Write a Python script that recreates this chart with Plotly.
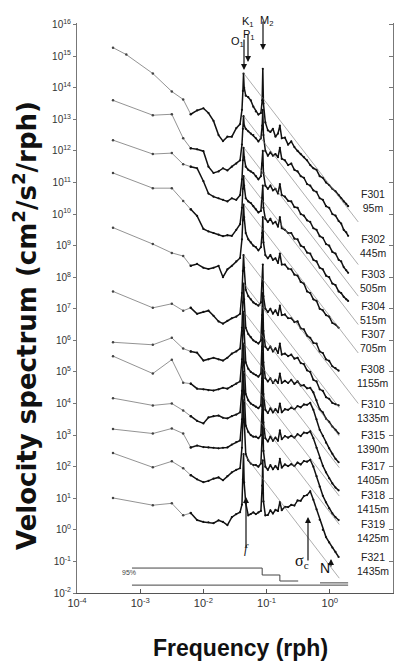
import plotly.graph_objects as go

# ---------------- data (log10 values) ----------------
NAMES = ["F301", "F302", "F303", "F304", "F307", "F308",
         "F310", "F315", "F317", "F318", "F319", "F321"]
DEPTHS = ["95m", "445m", "505m", "515m", "705m", "1155m",
          "1335m", "1390m", "1405m", "1415m", "1425m", "1435m"]

# coarse low-frequency estimates (log10 frequency, rph)
LOW_F = [
    [-3.43, -3.22, -2.80, -2.50, -2.32],
    [-3.43, -2.80, -2.50, -2.32],
    [-3.43, -2.80, -2.50, -2.32],
    [-3.43, -2.80, -2.50, -2.32],
    [-3.43, -2.80, -2.50, -2.32],
    [-3.43, -2.80, -2.50, -2.32],
    [-3.43, -2.80, -2.50, -2.32],
    [-3.43, -2.80, -2.50, -2.32],
    [-3.43, -2.80, -2.50, -2.32],
    [-3.43, -2.80, -2.50, -2.32],
    [-3.43, -2.80, -2.50, -2.32],
    [-3.43, -2.80, -2.50, -2.32],
]
LOW_S = [
    [15.27, 15.05, 14.45, 13.88, 13.63],
    [13.60, 13.13, 13.16, 12.40],
    [12.34, 11.90, 11.93, 11.58],
    [11.30, 10.82, 10.82, 10.41],
    [9.57, 9.05, 8.77, 8.67],
    [7.55, 7.03, 7.16, 6.94],
    [5.94, 5.86, 6.08, 5.74],
    [5.50, 4.95, 5.39, 4.66],
    [4.17, 3.94, 4.00, 3.78],
    [3.19, 3.05, 3.21, 3.05],
    [2.43, 1.98, 2.17, 1.95],
    [1.01, 0.78, 0.84, 0.46],
]

# band-averaged part: shared log10 frequency grid
DENSE_F = [-2.20, -2.10, -2.00, -1.92, -1.84, -1.76, -1.69, -1.62, -1.55, -1.48,
           -1.42, -1.39, -1.375, -1.365, -1.355, -1.33, -1.29, -1.25, -1.21, -1.17,
           -1.13, -1.09, -1.07, -1.06, -1.05, -1.02, -0.98, -0.94, -0.90, -0.86,
           -0.82, -0.79, -0.76, -0.71, -0.66, -0.61, -0.56, -0.51, -0.46, -0.41,
           -0.36, -0.31, -0.26, -0.21, -0.16, -0.11, -0.06, -0.01, 0.04, 0.09,
           0.14, 0.18, 0.22, 0.26, 0.29]

DENSE_S = [
    # F301
    [13.16, 13.28, 13.35, 13.2, 12.95, 12.5, 12.31, 12.45, 12.45, 12.72,
     12.85, 13.3, 13.9, 14.45, 14.0, 13.75, 13.7, 13.6, 13.4, 13.25,
     13.15, 13.2, 13.6, 14.6, 13.5,
     12.9, 12.65, 12.6, 12.7, 12.45, 12.55, 12.8, 12.4, 12.42, 12.2,
     12.3, 12.12, 12.0, 11.9, 11.8, 11.7, 11.55, 11.45, 11.4, 11.2,
     11.15, 11.0, 10.92, 10.8, 10.72, 10.6, 10.5, 10.4, 10.32, 10.25],
    # F302
    [12.08, 12.05, 11.99, 11.5, 11.3, 11.35, 11.45, 11.38, 11.5, 11.6,
     11.7, 12.2, 12.7, 13.1, 12.8, 12.7, 12.62, 12.55, 12.5, 12.4,
     12.3, 12.4, 12.8, 13.3, 12.5,
     12.0, 11.85, 11.95, 11.85, 11.9, 11.8, 12.1, 11.75, 11.7, 11.55,
     11.6, 11.4, 11.35, 11.2, 11.15, 10.95, 10.9, 10.75, 10.7, 10.5,
     10.45, 10.25, 10.2, 10.0, 9.95, 9.78, 9.7, 9.5, 9.42, 9.31],
    # F303
    [11.5, 11.45, 11.04, 10.65, 10.55, 10.5, 10.45, 10.4, 10.5, 10.45,
     10.6, 11.1, 11.7, 12.1, 11.8, 11.5, 11.4, 11.35, 11.3, 11.2,
     11.1, 11.2, 11.6, 12.0, 11.3,
     10.9, 10.8, 10.9, 10.75, 10.8, 10.65, 10.95, 10.6, 10.55, 10.42,
     10.4, 10.22, 10.2, 10.0, 9.95, 9.8, 9.75, 9.55, 9.5, 9.3,
     9.25, 9.05, 9.0, 8.8, 8.75, 8.55, 8.5, 8.32, 8.22, 8.14],
    # F304
    [10.15, 9.94, 9.53, 9.45, 9.40, 9.35, 9.3, 9.33, 9.31, 9.5,
     9.68, 10.2, 10.8, 11.2, 10.9, 10.5, 10.4, 10.35, 10.25, 10.15,
     10.05, 10.1, 10.5, 10.9, 10.2,
     9.85, 9.75, 9.85, 9.7, 9.75, 9.6, 9.9, 9.55, 9.5, 9.4,
     9.4, 9.22, 9.2, 9.0, 8.95, 8.78, 8.75, 8.55, 8.5, 8.3,
     8.25, 8.05, 8.0, 7.8, 7.75, 7.55, 7.5, 7.38, 7.3, 7.25],
    # F307
    [8.36, 8.42, 8.3, 8.26, 8.3, 8.36, 8.0, 8.25, 8.36, 8.5,
     8.61, 9.2, 9.8, 10.3, 9.9, 9.4, 9.2, 9.1, 9.0, 8.95,
     8.85, 8.95, 9.4, 9.9, 9.1,
     8.7, 8.6, 8.7, 8.55, 8.6, 8.45, 8.75, 8.4, 8.4, 8.27,
     8.25, 8.08, 8.05, 7.85, 7.8, 7.55, 7.5, 7.3, 7.25, 7.0,
     6.95, 6.8, 6.75, 6.55, 6.5, 6.4],
    # F308
    [7.03, 6.84, 6.9, 6.94, 6.78, 6.6, 6.53, 6.62, 6.7, 6.75,
     6.84, 7.5, 8.2, 8.7, 8.3, 7.6, 7.4, 7.3, 7.2, 7.15,
     7.1, 7.2, 7.8, 8.4, 7.4,
     7.0, 6.9, 7.0, 6.85, 6.95, 6.8, 7.1, 6.8, 6.82, 6.7,
     6.7, 6.58, 6.6, 6.38, 6.35, 6.15, 6.08, 5.92, 5.9, 5.65,
     5.6, 5.4, 5.35, 5.18, 5.12, 5.04],
    # F310
    [5.65, 5.61, 5.36, 5.4, 5.45, 5.4, 5.36, 5.45, 5.58, 5.65,
     5.74, 6.4, 7.2, 7.8, 7.3, 6.4, 6.2, 6.1, 6.0, 5.95,
     5.9, 6.0, 6.8, 7.5, 6.3,
     5.8, 5.7, 5.8, 5.65, 5.75, 5.6, 5.9, 5.55, 5.58, 5.5,
     5.55, 5.42, 5.45, 5.28, 5.25, 5.05, 5.0, 4.75, 4.7, 4.45,
     4.4, 4.2, 4.15, 4.02, 3.98, 3.94],
    # F315
    [4.63, 4.47, 4.45, 4.42, 4.41, 4.45, 4.5, 4.47, 4.55, 4.63,
     4.7, 5.4, 6.3, 6.9, 6.3, 5.3, 5.1, 5.0, 4.95, 4.9,
     4.85, 4.95, 5.8, 6.6, 5.3,
     4.8, 4.7, 4.8, 4.65, 4.75, 4.65, 4.95, 4.65, 4.72, 4.65,
     4.75, 4.62, 4.7, 4.57, 4.58, 4.48, 4.5, 4.35, 4.1, 3.82,
     3.72, 3.52, 3.42, 3.27, 3.17, 3.05],
    # F317
    [3.6, 3.45, 3.37, 3.56, 3.6, 3.62, 3.55, 3.53, 3.6, 3.65,
     3.72, 4.4, 5.3, 5.9, 5.3, 4.3, 4.1, 4.0, 3.95, 3.9,
     3.85, 3.95, 4.8, 5.6, 4.3,
     3.8, 3.7, 3.85, 3.72, 3.82, 3.72, 4.0, 3.72, 3.82, 3.8,
     3.87, 3.82, 3.92, 3.88, 3.97, 3.96, 4.02, 3.8, 3.5, 3.17,
     2.98, 2.76, 2.58, 2.41, 2.25, 2.14],
    # F318
    [2.61, 2.67, 2.62, 2.61, 2.6, 2.58, 2.6, 2.61, 2.7, 2.78,
     2.83, 3.5, 4.4, 5.0, 4.4, 3.3, 3.1, 3.0, 2.95, 2.95,
     2.9, 3.0, 3.9, 4.7, 3.4,
     2.9, 2.8, 2.95, 2.82, 2.92, 2.82, 3.15, 2.87, 2.97, 2.92,
     2.98, 2.92, 3.03, 2.97, 3.08, 3.06, 3.12, 2.9, 2.6, 2.27,
     2.03, 1.82, 1.63, 1.47, 1.34, 1.25],
    # F319
    [1.73, 1.6, 1.51, 1.55, 1.62, 1.66, 1.57, 1.7, 1.82, 1.9,
     1.95, 2.6, 3.5, 4.1, 3.5, 2.4, 2.2, 2.1, 2.05, 2.05,
     2.0, 2.1, 3.0, 3.8, 2.5,
     2.0, 1.9, 2.05, 1.92, 2.02, 1.92, 2.25, 1.97, 2.07, 2.02,
     2.08, 2.02, 2.13, 2.07, 2.18, 2.16, 2.22, 2.0, 1.7, 1.37,
     1.08, 0.87, 0.68, 0.52, 0.4, 0.31],
    # F321
    [0.53, 0.31, 0.25, 0.24, 0.21, 0.3, 0.25, 0.15, 0.4, 0.5,
     0.56, 0.8, 1.6, 2.4, 1.5, 0.84, 0.46, 0.5, 0.55, 0.5,
     0.55, 0.6, 1.4, 2.2, 0.9,
     0.46, 0.47, 0.62, 0.52, 0.63, 0.6, 0.88, 0.62, 0.73, 0.72,
     0.79, 0.77, 0.93, 0.92, 1.07, 1.1, 1.22, 0.95, 0.65, 0.32,
     0.0, -0.23, -0.4, -0.56, -0.7, -0.86],
]

# thin reference lines: (log10 f, log10 S) at start and end
REF_F0 = -1.36
REF_F1 = [0.45, 0.45, 0.45, 0.45, 0.45, 0.45, 0.15, 0.15, 0.15, 0.15, 0.15, 0.15]
REF_S0 = [14.45, 13.1, 12.1, 11.2, 10.3, 8.7, 7.8, 6.9, 5.9, 5.0, 4.1, 2.4]
REF_S1 = [9.75, 8.4, 7.4, 6.5, 5.6, 4.0, 3.87, 2.97, 1.97, 1.07, 0.17, -1.53]

# 95% confidence bars (log10)
CI_UP_F = [-3.13, -1.07, -1.07, -0.79, -0.79, -0.50]
CI_UP_S = [-1.21, -1.21, -1.43, -1.43, -1.62, -1.62]
CI_UP2_F = [-0.155, 0.29]
CI_UP2_S = [-1.68, -1.68]
CI_LO_F = [-3.13, 0.29]
CI_LO_S = [-1.75, -1.75]

Y_TICKS = list(range(-2, 17))
X_TICKS = list(range(-4, 2))

# ---------------- figure ----------------
W, H = 399, 664
L, R, T, B = 77, 393, 23, 593


def px(x):
    return (x - L) / (R - L)


def py(y):
    return (B - y) / (B - T)


fig = go.Figure()

for i in range(len(NAMES)):
    lf = LOW_F[i] + [DENSE_F[0]]
    ls = LOW_S[i] + [DENSE_S[i][0]]
    fig.add_trace(go.Scatter(
        x=[10 ** v for v in lf], y=[10 ** v for v in ls],
        mode="lines+markers", line=dict(color="#777777", width=0.8),
        marker=dict(size=2.5, color="#444444"), showlegend=False,
        hoverinfo="skip"))
    n = len(DENSE_S[i])
    fig.add_trace(go.Scatter(
        x=[10 ** v for v in DENSE_F[:n]], y=[10 ** v for v in DENSE_S[i]],
        mode="lines+markers", line=dict(color="#111111", width=1.5),
        marker=dict(size=2.2, color="#111111"), showlegend=False,
        hoverinfo="skip"))
    fig.add_trace(go.Scatter(
        x=[10 ** REF_F0, 10 ** REF_F1[i]], y=[10 ** REF_S0[i], 10 ** REF_S1[i]],
        mode="lines", line=dict(color="#777777", width=0.6),
        showlegend=False, hoverinfo="skip"))

for fx, fy in [(CI_UP_F, CI_UP_S), (CI_UP2_F, CI_UP2_S), (CI_LO_F, CI_LO_S)]:
    fig.add_trace(go.Scatter(
        x=[10 ** v for v in fx], y=[10 ** v for v in fy], mode="lines",
        line=dict(color="#444444", width=1), showlegend=False,
        hoverinfo="skip"))

# invisible trace for right-hand mirrored axis
fig.add_trace(go.Scatter(x=[1e-3], y=[1], yaxis="y2", mode="markers",
                         marker=dict(opacity=0), showlegend=False,
                         hoverinfo="skip"))

tickfont = dict(family="Liberation Sans, Arial, sans-serif", size=10,
                color="#333333")

fig.update_layout(
    width=W, height=H,
    margin=dict(l=L, r=W - R, t=T, b=H - B),
    paper_bgcolor="white", plot_bgcolor="white",
    xaxis=dict(type="log", range=[-4, 1], showgrid=False, zeroline=False,
               showline=True, linecolor="#555555", linewidth=1,
               ticks="inside", ticklen=4, tickcolor="#555555",
               tickvals=[10 ** k for k in X_TICKS],
               ticktext=["10<sup>%d</sup>" % k for k in X_TICKS],
               tickfont=dict(family="Liberation Sans, Arial, sans-serif",
                             size=11, color="#333333")),
    yaxis=dict(type="log", range=[-2, 16.05], showgrid=False, zeroline=False,
               showline=True, linecolor="#777777", linewidth=1,
               ticks="outside", ticklen=3, tickcolor="#777777",
               tickvals=[10 ** k for k in Y_TICKS],
               ticktext=["10<sup>%d</sup>" % k for k in Y_TICKS],
               tickfont=tickfont),
    yaxis2=dict(type="log", range=[-2, 16.05], overlaying="y", side="right",
                showgrid=False, zeroline=False, showline=True,
                linecolor="#777777", linewidth=1, ticks="inside", ticklen=4,
                tickcolor="#777777", tickvals=[10 ** k for k in Y_TICKS],
                showticklabels=False),
)

ann = []
font_lab = dict(family="Liberation Sans, Arial, sans-serif", size=10.5,
                color="#222222")
LAB_Y = [201, 246, 281, 313, 341, 376, 411, 442, 473, 502, 531, 564]
for i in range(len(NAMES)):
    ann.append(dict(x=px(373), y=py(LAB_Y[i]), xref="paper", yref="paper",
                    text=NAMES[i] + "<br>" + DEPTHS[i], showarrow=False,
                    font=font_lab, xanchor="center", yanchor="middle"))

# titles
ann.append(dict(x=px(240), y=py(648), xref="paper", yref="paper",
                text="<b>Frequency (rph)</b>", showarrow=False,
                font=dict(family="Liberation Sans, Arial, sans-serif",
                          size=23, color="#111111"),
                xanchor="center", yanchor="middle"))
ann.append(dict(x=px(25), y=py(326), xref="paper", yref="paper",
                text="<b>Velocity spectrum (cm<sup>2</sup>/s<sup>2</sup>/rph)</b>",
                showarrow=False, textangle=-90,
                font=dict(family="DejaVu Sans, sans-serif", size=26,
                          color="#111111"),
                xanchor="center", yanchor="middle"))

# arrows
arrow_style = dict(showarrow=True, arrowhead=2, arrowsize=1, arrowwidth=1.2,
                   arrowcolor="#111111", text="", xref="paper",
                   yref="paper", axref="pixel", ayref="pixel")
for xh, yh, yt in [(244, 70, 38), (248, 62, 33), (263, 50, 20)]:
    ann.append(dict(x=px(xh), y=py(yh), ax=0, ay=yt - yh, **arrow_style))
for xh, yh, yt in [(246, 497, 549), (308, 517, 562), (331, 559, 568)]:
    ann.append(dict(x=px(xh), y=py(yh), ax=0, ay=yt - yh, **arrow_style))

txt_font = dict(family="Liberation Sans, Arial, sans-serif", size=11,
                color="#111111")
for t, x, y in [("O<sub>1</sub>", 237, 33), ("K<sub>1</sub>", 248, 13),
                ("P<sub>1</sub>", 249, 26), ("M<sub>2</sub>", 266, 12)]:
    ann.append(dict(x=px(x), y=py(y), xref="paper", yref="paper", text=t,
                    showarrow=False, font=txt_font))
ann.append(dict(x=px(246), y=py(558), xref="paper", yref="paper",
                text="<i>f</i>", showarrow=False,
                font=dict(family="Liberation Serif, serif", size=12,
                          color="#111111")))
ann.append(dict(x=px(311), y=py(573), xref="paper", yref="paper",
                text="σ<sub>c</sub>", showarrow=False,
                font=dict(family="Liberation Serif, serif", size=16,
                          color="#111111")))
ann.append(dict(x=px(332), y=py(578), xref="paper", yref="paper",
                text="N", showarrow=False,
                font=dict(family="Liberation Sans, Arial, sans-serif",
                          size=14, color="#111111")))
ann.append(dict(x=px(120), y=py(578), xref="paper", yref="paper",
                text="95%", showarrow=False,
                font=dict(family="Liberation Sans, Arial, sans-serif",
                          size=7, color="#444444")))

fig.update_layout(annotations=ann)
fig.write_html("out.html", config={"displayModeBar": False},
               post_script="document.body.style.margin='0px';"
                           "document.body.style.overflow='hidden';")
